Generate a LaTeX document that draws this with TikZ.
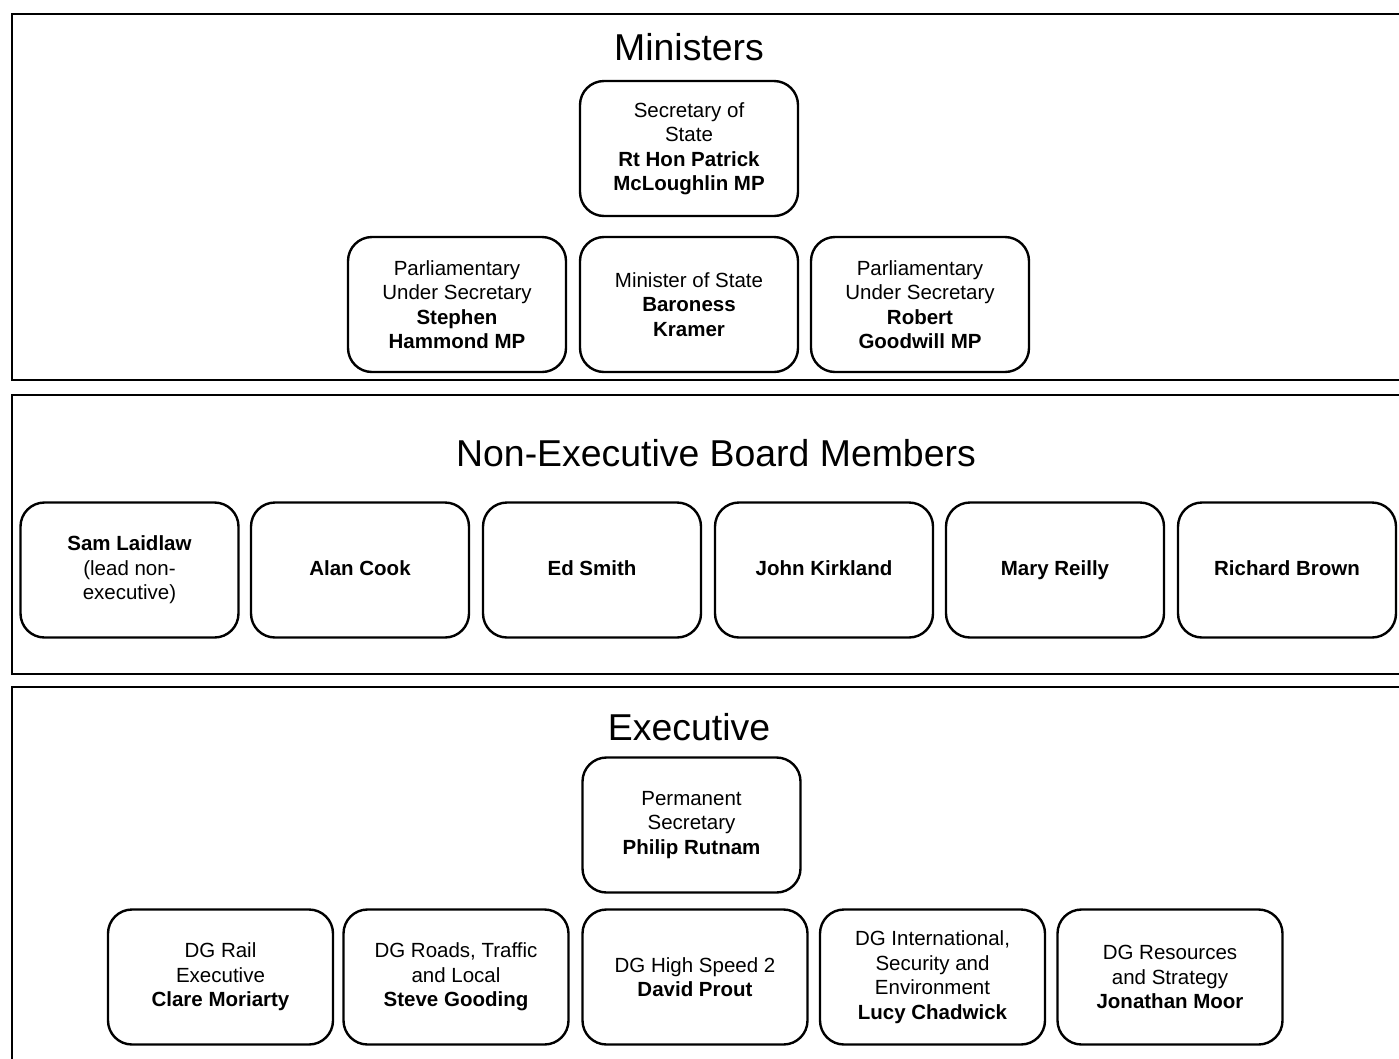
\documentclass[tikz,border=0pt]{standalone}
\usepackage{fontspec}
\setmainfont{Liberation Sans}
\usepackage{tikz}
\usetikzlibrary{positioning}

\newcommand{\onestrut}{\rule[-3pt]{0pt}{17pt}}

\tikzset{
    panel/.style={draw, line width=2.6pt},
    title/.style={font=\fontsize{37.4}{42}\selectfont},
    post/.style={draw, line width=2.4pt, rounded corners=24pt, minimum width=218pt, minimum height=135pt, align=center, font=\fontsize{20.5}{24.5}\selectfont, inner sep=2pt},
    wpost/.style={post, minimum width=225pt}
}

\begin{document}
\begin{tikzpicture}[x=1pt, y=-1pt]
        \useasboundingbox (0,0) rectangle (1399,1058);
        \clip (0,0) rectangle (1399,1058);

        % panels
        \draw[panel] (12,14) rectangle (1420,380);
        \draw[panel] (12,395) rectangle (1420,674);
        \draw[panel] (12,687) rectangle (1420,1080);

        \node[title] (tmin) at (689,47) {Ministers};
        \node[title] (tneb) at (716,453) {Non-Executive Board Members};
        \node[title] (texe) at (689,727) {Executive};

        % ministers
        \node[post] (sos) at (689,148.5) {Secretary of\\State\\\textbf{Rt Hon Patrick}\\\textbf{McLoughlin MP}};
        \node[post] (pus1) at (457,304.5) {Parliamentary\\Under Secretary\\\textbf{Stephen}\\\textbf{Hammond MP}};
        \node[post] (mos) at (689,304.5) {Minister of State\\\textbf{Baroness}\\\textbf{Kramer}};
        \node[post] (pus2) at (920,304.5) {Parliamentary\\Under Secretary\\\textbf{Robert}\\\textbf{Goodwill MP}};

        % non-executive board members
        \node[post] (ne1) at (129.5,570) {\textbf{Sam Laidlaw}\\(lead non-\\executive)};
        \node[post] (ne2) at (360,570) {\onestrut\textbf{Alan Cook}};
        \node[post] (ne3) at (592,570) {\onestrut\textbf{Ed Smith}};
        \node[post] (ne4) at (824,570) {\onestrut\textbf{John Kirkland}};
        \node[post] (ne5) at (1055,570) {\onestrut\textbf{Mary Reilly}};
        \node[post] (ne6) at (1287,570) {\onestrut\textbf{Richard Brown}};

        % executive
        \node[post] (ps) at (691.5,825) {Permanent\\Secretary\\\textbf{Philip Rutnam}};
        \node[wpost] (dg1) at (220.5,977) {DG Rail\\Executive\\\textbf{Clare Moriarty}};
        \node[wpost] (dg2) at (456,977) {DG Roads, Traffic\\and Local\\\textbf{Steve Gooding}};
        \node[wpost] (dg3) at (695,977) {DG High Speed 2\\\textbf{David Prout}};
        \node[wpost] (dg4) at (932.5,977) {DG International,\\Security and\\Environment\\\textbf{Lucy Chadwick}};
        \node[wpost] (dg5) at (1170,977) {DG Resources\\and Strategy\\\textbf{Jonathan Moor}};
    \end{tikzpicture}
\end{document}
